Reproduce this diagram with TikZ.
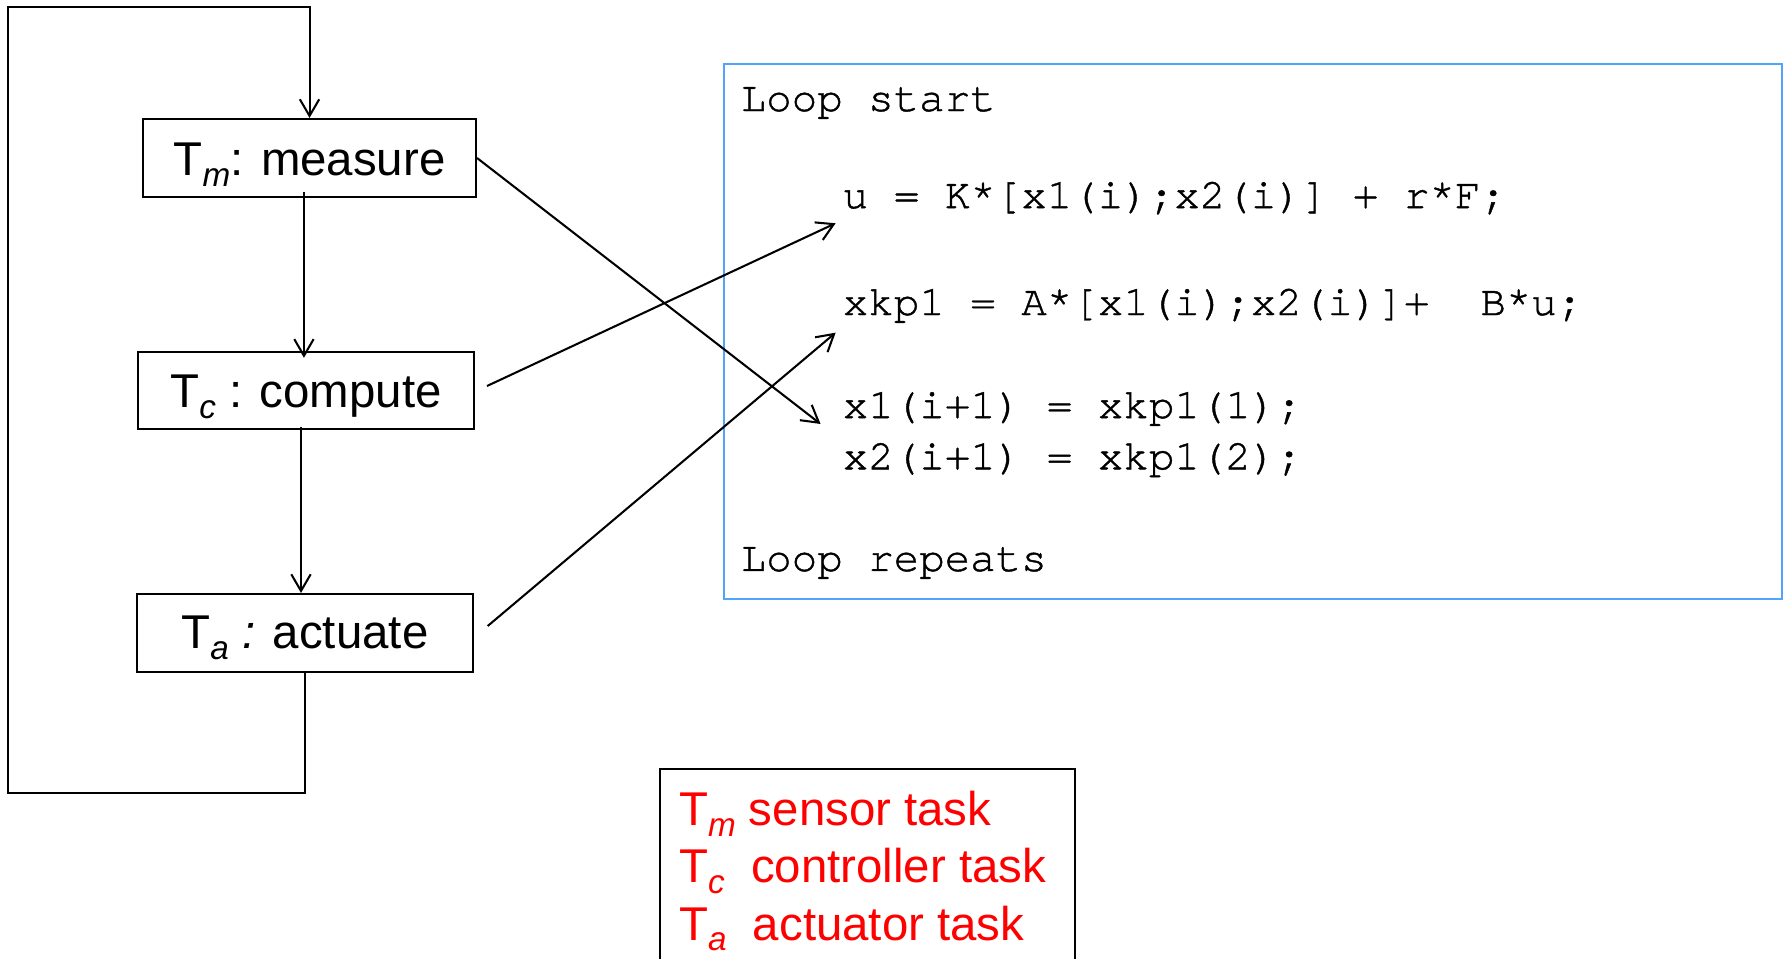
\documentclass[tikz,border=0pt]{standalone}
\usepackage{fontspec}
\setmainfont{Liberation Sans}
\newfontfamily\codefont[FakeBold=1]{TeX Gyre Cursor}
\usetikzlibrary{arrows.meta,calc}
\definecolor{codeblue}{RGB}{80,165,250}
% italic, lowered subscript used in the task names
\newcommand{\tsub}[1]{\raisebox{-4.8pt}{\fontsize{14.6pt}{14.6pt}\selectfont\itshape #1}}

\begin{document}
\begin{tikzpicture}[x=0.5pt,y=-0.5pt,
  line width=0.9pt,
  arr/.style={-{Straight Barb[length=7.3pt,width=8.5pt]}},
  task/.style={draw, rectangle, inner sep=0pt, text depth=0pt,
    font=\fontsize{20.8pt}{25pt}\selectfont},
  codeline/.style={anchor=base west, inner sep=0pt,
    font=\codefont\fontsize{18.65pt}{22pt}\selectfont},
  legendtxt/.style={anchor=base west, inner sep=0pt, text=red,
    font=\fontsize{20.8pt}{25pt}\selectfont}]

\useasboundingbox (0,0) rectangle (1568,841);

% the three tasks
\node[task, minimum width=146.1pt, minimum height=34.25pt, text height=15.4pt]
  (Tm) at (271.6,138.65) {T\tsub{m}: measure};
\node[task, minimum width=147.4pt, minimum height=33.75pt, text height=14.8pt]
  (Tc) at (268.5,342.6) {T\tsub{c} : compute};
\node[task, minimum width=147.4pt, minimum height=34.2pt, text height=13.5pt]
  (Ta) at (267.6,555.4) {T\tsub{a} \textit{:} actuate};

% feedback loop from actuate back to measure
\coordinate (lb) at (7.3,695.8);
\coordinate (lt) at (7.3,6.4);
\draw[arr] (Ta.south) -- (Ta.south |- lb) -- (lb) -- (lt) -- (lt -| Tm.north) -- (Tm.north);

% sequence measure -> compute -> actuate
\draw[arr, shorten <=-2.5pt, shorten >=-3pt]
  ($(Tm.south)+(-4.9,0)$) -- ($(Tc.north)+(-1.8,0)$);
\draw[arr, shorten <=-1.5pt]
  ($(Tc.south)+(-4.4,0)$) -- ($(Ta.north)+(-3.5,0)$);

% code listing
\node[draw=codeblue, minimum width=464.35pt, minimum height=234.55pt,
  inner sep=0pt, anchor=north west] (code) at (634,55.6) {};
\node[codeline] (ls) at (649,97.4) {Loop start};
\node[codeline] (cu) at (738.6,182.6) {u = K*[x1(i);x2(i)] + r*F;};
\node[codeline] (ck) at (738.6,276.4) {xkp1 = A*[x1(i);x2(i)]+\ \ B*u;};
\node[codeline] (c1) at (738.6,366.8) {x1(i+1) = xkp1(1);};
\node[codeline] (c2) at (738.6,411.8) {x2(i+1) = xkp1(2);};
\node[codeline] (lr) at (649,501) {Loop repeats};

% which task runs which statement
\coordinate (pu) at (733.2,195.9);
\coordinate (pk) at (733.2,291.9);
\coordinate (px) at (720,372);
\draw[arr] (Tm.east) -- (px);
\draw[arr] ($(Tc.east)+(10.5,-3.9)$) -- (pu);
\draw[arr] ($(Ta.east)+(12,-6.1)$) -- (pk);

% legend
\node[draw, minimum width=181.95pt, minimum height=120pt, inner sep=0pt,
  anchor=north west] (legend) at (578.5,674) {};
\node[legendtxt] (lm) at (595,724.2) {T\tsub{m} sensor task};
\node[legendtxt] (lc) at (595,774.5) {T\tsub{c}\ \ controller task};
\node[legendtxt] (la) at (595,824.8) {T\tsub{a}\ \ actuator task};
\end{tikzpicture}
\end{document}
